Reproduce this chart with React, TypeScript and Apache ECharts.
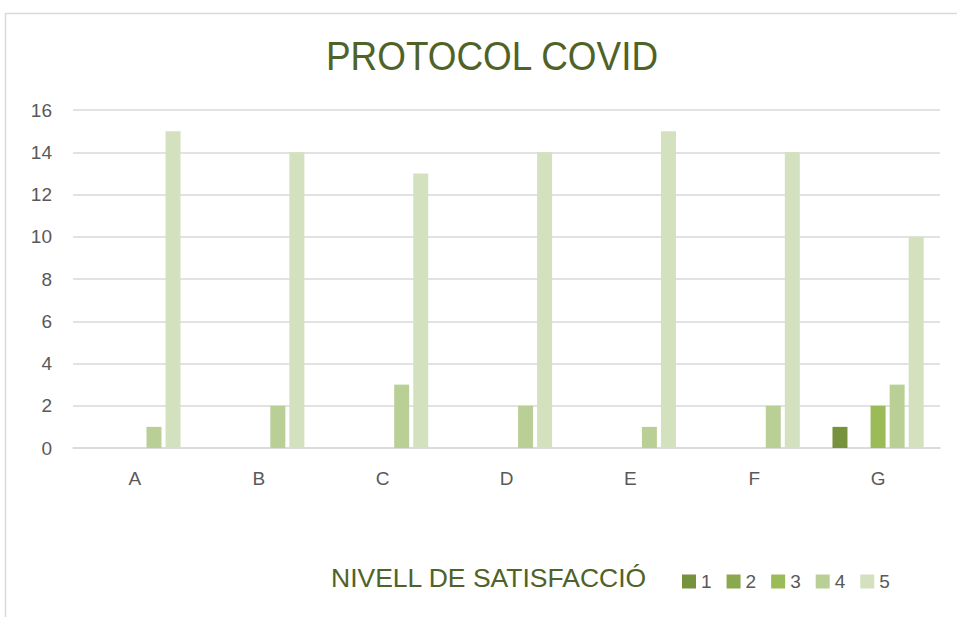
import React, { useEffect, useRef } from "react";
import * as echarts from "echarts";

const categories = ["A", "B", "C", "D", "E", "F", "G"];
const seriesNames = ["1", "2", "3", "4", "5"];
const level1 = [0, 0, 0, 0, 0, 0, 1];
const level2 = [0, 0, 0, 0, 0, 0, 0];
const level3 = [0, 0, 0, 0, 0, 0, 2];
const level4 = [1, 2, 3, 2, 1, 2, 3];
const level5 = [15, 14, 13, 14, 15, 14, 10];
const colors = ["#76923c", "#8aa84e", "#9bbb59", "#bacf96", "#d3e1bf"];

export default function App() {
  const ref = useRef<HTMLDivElement>(null);
  useEffect(() => {
    document.body.style.margin = "0";
    const chart = echarts.init(ref.current!, undefined, { renderer: "svg" });
    const data = [level1, level2, level3, level4, level5];
    chart.setOption({
      animation: false,
      backgroundColor: "#ffffff",
      textStyle: { fontFamily: "Liberation Sans, Arial, sans-serif" },
      grid: { left: 73, right: 17, top: 110, height: 338 },
      xAxis: {
        type: "category",
        data: categories,
        axisLine: { lineStyle: { color: "#d9d9d9", width: 1.5 } },
        axisTick: { show: false },
        axisLabel: { color: "#595959", fontSize: 19, margin: 21 },
      },
      yAxis: {
        type: "value",
        min: 0,
        max: 16,
        interval: 2,
        axisLine: { show: false },
        axisTick: { show: false },
        splitLine: { lineStyle: { color: "#d9d9d9", width: 1.5 } },
        axisLabel: { color: "#595959", fontSize: 19, margin: 21 },
      },
      legend: {
        left: 682,
        top: 572,
        padding: 0,
        itemWidth: 14,
        itemHeight: 14,
        itemGap: 15,
        icon: "rect",
        textStyle: { color: "#595959", fontSize: 19 },
        data: seriesNames,
      },
      graphic: [
        {
          type: "rect",
          shape: { x: 5.5, y: 13.5, width: 1000, height: 700 },
          style: { fill: "none", stroke: "#d9d9d9", lineWidth: 1.5 },
          silent: true,
        },
        {
          type: "text",
          x: 492,
          y: 56,
          scaleX: 0.9,
          style: {
            text: "PROTOCOL COVID",
            fill: "#4f6228",
            fontSize: 41,
            fontFamily: "Liberation Sans, Arial, sans-serif",
            align: "center",
            verticalAlign: "middle",
          },
        },
        {
          type: "text",
          left: 331,
          top: 564,
          style: {
            text: "NIVELL DE SATISFACCIÓ",
            fill: "#4f6228",
            fontSize: 26.5,
            fontFamily: "Liberation Sans, Arial, sans-serif",
          },
        },
      ],
      series: seriesNames.map((n, i) => ({
        name: n,
        type: "bar",
        data: data[i],
        barWidth: 15,
        barGap: "27%",
        itemStyle: { color: colors[i] },
      })),
    });
    return () => chart.dispose();
  }, []);
  return <div ref={ref} style={{ width: 957, height: 617 }} />;
}
